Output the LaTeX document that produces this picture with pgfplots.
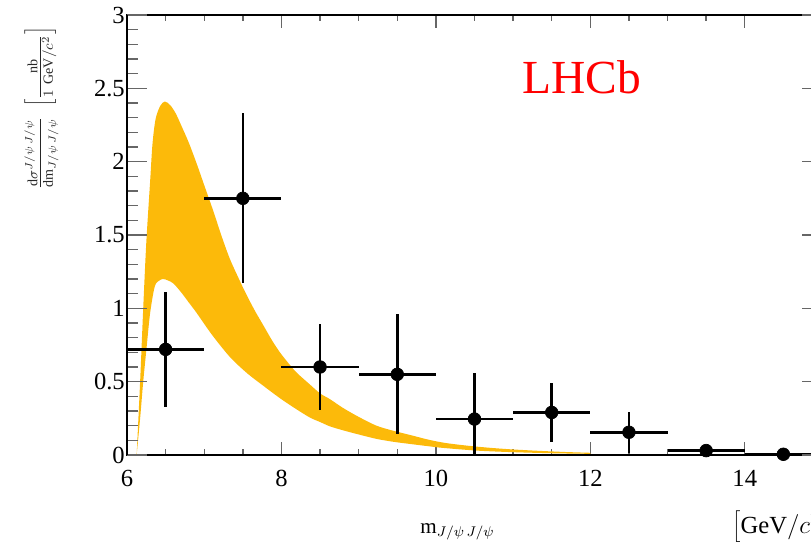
\documentclass[border=0pt]{standalone}
\usepackage{pgfplots}
\pgfplotsset{compat=1.18}
\usepgfplotslibrary{fillbetween}
\usetikzlibrary{calc}
\usepackage{fontspec}
\setmainfont{Liberation Serif}
\definecolor{bandcol}{RGB}{252,186,10}
\pgfplotsset{
  frame/.style={
    scale only axis,
    width=13.9cm, height=8.8cm,
    xmin=6, xmax=15, ymin=0, ymax=3,
    tick align=inside,
    tick style={black!60, line width=0.8pt},
    axis line style={line width=1.1pt},
    /pgf/number format/assume math mode=true,
    ticklabel style={font=\fontsize{14}{16}\selectfont},
  },
}
\begin{document}
\begin{tikzpicture}
% x ticks here, y ticks on the overlay axis (they are longer)
\begin{axis}[
  frame,
  name=ax,
  xtick={6,8,10,12,14},
  minor x tick num=3,
  ytick=\empty,
  major tick length=0.26cm,
  minor tick length=0.12cm,
  xticklabel style={yshift=-0.18cm},
]
% theory band (upper and lower edges)
\addplot[name path=up, draw=none, smooth] coordinates {
  (6.125,0) (6.17,0.5) (6.21,1.0) (6.25,1.45) (6.30,1.87) (6.33,2.12)
  (6.37,2.29) (6.43,2.38) (6.49,2.41) (6.56,2.385) (6.63,2.33) (6.70,2.25)
  (6.80,2.13) (6.90,1.99) (7.00,1.84) (7.12,1.66) (7.22,1.50) (7.33,1.34)
  (7.45,1.20) (7.55,1.09) (7.66,0.98) (7.77,0.88) (7.88,0.78) (7.98,0.70)
  (8.10,0.62) (8.20,0.56) (8.37,0.48) (8.50,0.42) (8.63,0.38) (8.80,0.32)
  (9.00,0.26) (9.23,0.20) (9.45,0.165) (9.67,0.136) (9.90,0.105) (10.10,0.084)
  (10.30,0.07) (10.53,0.057) (10.75,0.047) (10.96,0.039) (11.20,0.032)
  (11.39,0.027) (11.70,0.02) (12.00,0.015)
};
\addplot[name path=lo, draw=none, smooth] coordinates {
  (6.125,0) (6.17,0.25) (6.21,0.5) (6.255,0.74) (6.30,0.97) (6.36,1.15)
  (6.42,1.19) (6.47,1.20) (6.53,1.19) (6.60,1.17) (6.70,1.11) (6.80,1.04)
  (6.90,0.97) (7.10,0.82) (7.33,0.67) (7.55,0.56) (7.77,0.47) (8.00,0.38)
  (8.20,0.31) (8.37,0.255) (8.50,0.225) (8.63,0.195) (8.80,0.168) (9.00,0.14)
  (9.23,0.11) (9.45,0.09) (9.67,0.075) (9.90,0.06) (10.10,0.048) (10.53,0.03)
  (10.96,0.02) (11.50,0.012) (12.00,0.008)
};
\addplot[bandcol] fill between[of=up and lo];
% data
\addplot[only marks, mark=*, black, mark size=3.6pt,
  error bars/.cd, x dir=both, x explicit, y dir=both, y explicit,
  error bar style={line width=1.5pt, black}, error mark=none]
  coordinates {
    (6.5,0.72)   +- (0.5,0.39)
    (7.5,1.75)   +- (0.5,0.58)
    (8.5,0.60)   +- (0.5,0.295)
    (9.5,0.55)   +- (0.5,0.41)
    (10.5,0.245) +- (0.5,0.315)
    (11.5,0.29)  +- (0.5,0.20)
    (12.5,0.155) +- (0.5,0.14)
    (13.5,0.03)  +- (0.5,0.03)
    (14.5,0.005) +- (0.5,0.005)
  };
\node[text=red, font=\fontsize{27}{30}\selectfont] at (axis cs:11.89,2.575) {LHCb};
\end{axis}
\begin{axis}[
  frame,
  at={(ax.south west)}, anchor=south west,
  hide x axis,
  ytick={0,0.5,1,1.5,2,2.5,3},
  minor y tick num=4,
  major tick length=0.4cm,
  minor tick length=0.22cm,
  yticklabel style={xshift=0.08cm},
]
\end{axis}
\node[rotate=90, anchor=east, text=black!85, font=\fontsize{12}{14}\selectfont]
  at ($(ax.south west)+(-1.71cm,8.7cm)$)
  {$\frac{\mathrm{d}\sigma^{J/\psi\,J/\psi}}{\mathrm{dm}_{J/\psi\,J/\psi}}\;\left[\frac{\mathrm{nb}}{1\ \mathrm{GeV}/c^{2}}\right]$};
\node[anchor=base, font=\fontsize{12}{14}\selectfont]
  at ($(ax.south west)+(6.61cm,-1.56cm)$) {m$_{J/\psi\,J/\psi}$};
\node[anchor=base west, inner sep=0pt, font=\fontsize{14}{16}\selectfont]
  at ($(ax.south west)+(12.1cm,-1.56cm)$) {$\left[\mathrm{GeV}/c^{2}\right]$};
\pgfresetboundingbox
\path[use as bounding box] ($(ax.south west)+(-2.54cm,-1.78cm)$) rectangle ($(ax.south west)+(13.68cm,9.1cm)$);
\end{tikzpicture}
\end{document}
